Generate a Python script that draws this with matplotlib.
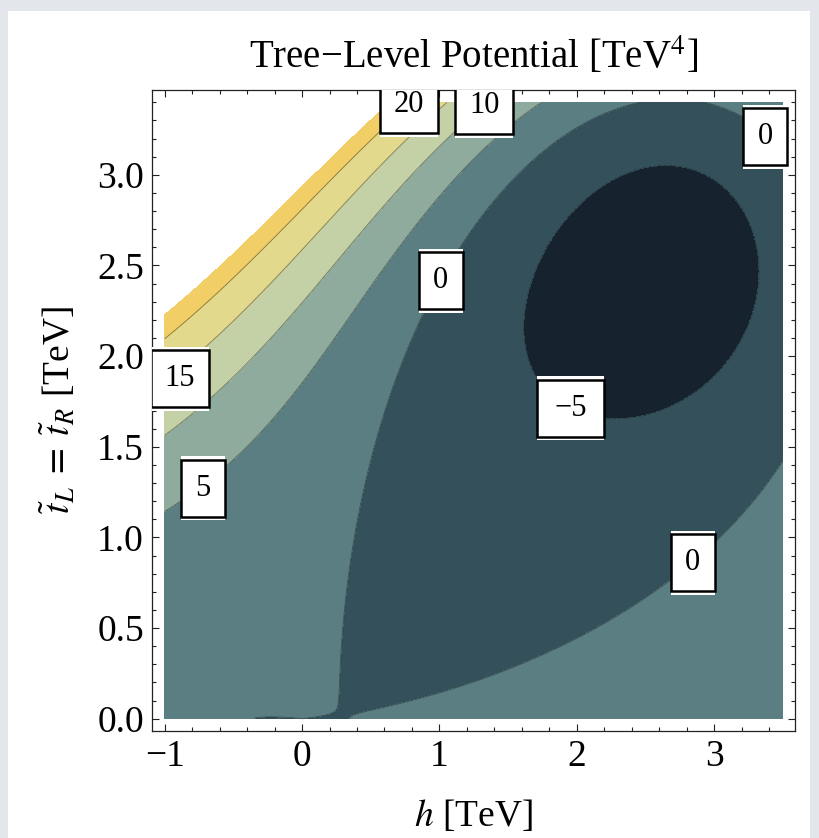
import numpy as np
import matplotlib
matplotlib.use("Agg")
import matplotlib.pyplot as plt
from matplotlib.patches import Rectangle
from matplotlib.ticker import MultipleLocator, FormatStrFormatter

# ---------------------------------------------------------------------------
# Tree-level potential along the direction t = t_L = t_R  (units: TeV^4)
#   V(h, t) = a h^2 + b h^4 + (c - e h + d h^2) t^2 + f t^4
# ---------------------------------------------------------------------------
higgs_quadratic = -0.0039    # a = -mu^2 / 2
higgs_quartic = 0.0325       # b = lambda / 4
stop_mass2 = 0.630           # c
stop_trilinear = 2.446       # e
stop_higgs_quartic = 0.4132  # d
stop_quartic = 0.241         # f

h_range = [-1.0, 3.5]
t_range = [0.0, 3.4]

contour_levels = [-5, 0, 5, 10, 15, 20]
plot_range_max = 23.3
band_colors = ["#16232f", "#34515b", "#5a7e81", "#8eab9d",
               "#c4d1a6", "#e3d98c", "#f1cf66"]

# contour labels: value and where it sits on its contour
label_values = [20, 10, 0, 15, 0, 5, -5, 0]
label_h = [0.779, 1.326, 1.009, -0.888, 3.372, -0.722, 1.956, 2.844]
label_t = [3.388, 3.382, 2.415, 1.875, 3.210, 1.270, 1.712, 0.860]

x_ticks = [-1, 0, 1, 2, 3]
y_ticks = [0.0, 0.5, 1.0, 1.5, 2.0, 2.5, 3.0]


def potential(h, t):
    g = stop_mass2 - stop_trilinear * h + stop_higgs_quartic * h ** 2
    return (higgs_quadratic * h ** 2 + higgs_quartic * h ** 4
            + g * t ** 2 + stop_quartic * t ** 4)


plt.rcParams["font.family"] = ["Liberation Serif", "DejaVu Serif"]
plt.rcParams["mathtext.fontset"] = "stix"

W, H = 820, 838
fig = plt.figure(figsize=(W / 100, H / 100), dpi=100)
fig.patch.set_facecolor("#e3e6ea")
fig.add_artist(Rectangle((8 / W, 0), (810 - 8) / W, (H - 11) / H,
                         transform=fig.transFigure, facecolor="white",
                         edgecolor="none", zorder=0))

ax_left, ax_right, ax_bottom, ax_top = 152.3, 795.3, 731.0, 90.0
ax = fig.add_axes([ax_left / W, (H - ax_bottom) / H,
                   (ax_right - ax_left) / W, (ax_bottom - ax_top) / H])
ax.set_facecolor("white")

hh = np.linspace(h_range[0], h_range[1], 1100)
tt = np.linspace(t_range[0], t_range[1], 1600)
HH, TT = np.meshgrid(hh, tt)
VV = potential(HH, TT)

fill_levels = [VV.min() - 1.0] + contour_levels + [plot_range_max]
ax.contourf(HH, TT, VV, levels=fill_levels, colors=band_colors, zorder=1)
ax.contour(HH, TT, VV, levels=contour_levels, colors=[(0.1, 0.12, 0.12, 0.45)],
           linewidths=0.7, zorder=2)

pad_x = 0.02 * (h_range[1] - h_range[0])
pad_y = 0.02 * (t_range[1] - t_range[0])
ax.set_xlim(h_range[0] - pad_x, h_range[1] + pad_x)
ax.set_ylim(t_range[0] - pad_y, t_range[1] + pad_y)

ax.set_xticks(x_ticks)
ax.set_yticks(y_ticks)
ax.yaxis.set_major_formatter(FormatStrFormatter("%.1f"))
ax.xaxis.set_minor_locator(MultipleLocator(0.2))
ax.yaxis.set_minor_locator(MultipleLocator(0.1))
ax.tick_params(which="both", direction="in", top=True, right=True,
               color="#222222", width=0.8, labelsize=27, pad=6)
ax.tick_params(which="major", length=5)
ax.tick_params(which="minor", length=3)
for sp in ax.spines.values():
    sp.set_color("#222222")
    sp.set_linewidth(0.9)

ax.set_title("Tree\u2212Level Potential [TeV$^{4}$]", fontsize=28, pad=16)
ax.set_xlabel("$h$ [TeV]", fontsize=27)
ax.xaxis.set_label_coords(0.5, -0.105)
ax.set_ylabel(r"$\tilde{t}_L\;=\;\tilde{t}_R$ [TeV]", fontsize=27, va="center")
ax.yaxis.set_label_coords(-0.147, 0.5)

# framed contour labels
px_x = (ax.get_xlim()[1] - ax.get_xlim()[0]) / (ax_right - ax_left)
px_y = (ax.get_ylim()[1] - ax.get_ylim()[0]) / (ax_bottom - ax_top)
for val, lh, lt in zip(label_values, label_h, label_t):
    text = f"{val}".replace("-", "\u2212")
    wpx = {1: 44, 2: 58}.get(len(text), 58)
    if text.startswith("\u2212"):
        wpx = 67
    hpx = 57
    w, h = wpx * px_x, hpx * px_y
    strip = 3.5 * px_y
    ax.add_patch(Rectangle((lh - w / 2, lt - h / 2 - strip), w, h + 2 * strip,
                           facecolor="white", edgecolor="none", zorder=5))
    ax.add_patch(Rectangle((lh - w / 2, lt - h / 2), w, h,
                           facecolor="white", edgecolor="black",
                           linewidth=1.8, zorder=6))
    ax.text(lh, lt, text, ha="center", va="center", fontsize=22,
            color="black", zorder=7)

fig.savefig("out.png", dpi=100, facecolor=fig.get_facecolor())
